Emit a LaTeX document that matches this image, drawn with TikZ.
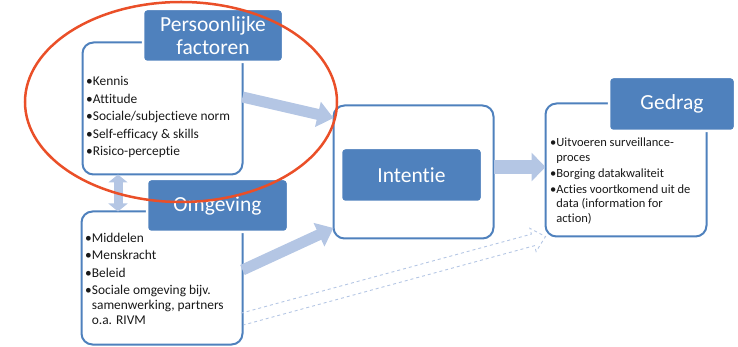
\documentclass[tikz,border=0pt]{standalone}
\usepackage{fontspec}
\setmainfont{Carlito}[Ligatures=NoCommon]
\usetikzlibrary{arrows.meta,calc}
\definecolor{tblue}{HTML}{4F81BD}
\definecolor{ablue}{HTML}{B4C6E4}
\definecolor{ered}{HTML}{EA4F28}
\begin{document}
\begin{tikzpicture}[x=1pt,y=-1pt,
  wbox/.style={draw=tblue, line width=2pt, fill=white, rounded corners=11pt, outer sep=0pt, inner sep=0pt},
  tbox/.style={draw=white, line width=2.5pt, fill=tblue, rounded corners=4pt, text=white,
    font=\fontsize{21.5}{23}\selectfont, align=center, inner sep=0pt, outer sep=0pt},
  blist/.style={anchor=west, align=left, inner sep=0pt, text=black!90},
  bigarrow/.style={draw=ablue, line width=#1},
  dasharrow/.style={draw=ablue, line width=0.9pt, dashed}
]
\useasboundingbox (0,0) rectangle (738,347);
% white boxes
\node[wbox, minimum width=160pt, minimum height=132pt] (pbox) at (162.5,108.5) {};
\node[wbox, minimum width=161pt, minimum height=133pt] (obox) at (162,278) {};
% dashed hollow arrow (drawn under boxes)
\coordinate (dA) at ([yshift=-41pt]obox.east);
\node[wbox, minimum width=160pt, minimum height=133pt] (ibox) at (413.5,172) {};
\node[wbox, minimum width=161pt, minimum height=133pt] (gbox) at (626,170) {};
\coordinate (dB) at (gbox.south west);
\coordinate (dC) at ($(dB)!13pt!(dA)$);
\draw[dasharrow]
  ($(dA)!6pt!90:(dB)$) -- ($(dC)!6pt!-90:(dA)$) -- ($(dC)!12pt!-90:(dA)$) -- (dB)
  -- ($(dC)!12pt!90:(dA)$) -- ($(dC)!6pt!90:(dA)$) -- ($(dA)!6pt!-90:(dB)$);
% thick arrows
\draw[bigarrow=11pt, -{Triangle[width=25pt,length=16pt]}]
  ([yshift=11.5pt]pbox.east) -- ([yshift=54pt]ibox.west);
\draw[bigarrow=11pt, -{Triangle[width=25pt,length=16pt]}]
  ([yshift=8pt]obox.east) -- ([yshift=-56pt]ibox.west);
\draw[bigarrow=14pt, -{Triangle[width=28pt,length=14pt]}]
  (ibox.east |- 0,167) -- (gbox.west |- 0,167);
\draw[bigarrow=9pt, {Triangle[width=19pt,length=8pt]}-{Triangle[width=19pt,length=8pt]}]
  (pbox.south -| 118,0) -- (obox.north -| 118,0);
% titles
\node[tbox, minimum width=140pt, minimum height=53pt] (ptitle) at (213,35.5) {Persoonlijke\\factoren};
\node[tbox, minimum width=141pt, minimum height=53pt] (otitle) at (217.5,205.5) {Omgeving};
\node[tbox, minimum width=141pt, minimum height=54pt] (ititle) at (411.5,175) {Intentie};
\node[tbox, minimum width=126pt, minimum height=54pt] (gtitle) at (672,104) {Gedrag};
% lists
\node[blist, font=\fontsize{13.4}{17.5}\selectfont] (plist) at (86,117)
  {•Kennis\\•Attitude\\•Sociale/subjectieve norm\\•Self-efficacy \& skills\\•Risico-perceptie};
\node[blist, font=\fontsize{13.4}{15}\selectfont] (olist) at (85,279)
  {•Middelen\\[2.5pt]•Menskracht\\[2.5pt]•Beleid\\[2.5pt]•Sociale omgeving bijv.\\\phantom{•}samenwerking, partners\\\phantom{•}o.a. RIVM};
\node[blist, font=\fontsize{12.5}{14.5}\selectfont] (glist) at (550,181)
  {•Uitvoeren surveillance-\\\phantom{•}proces\\[1.5pt]•Borging datakwaliteit\\[1.5pt]•Acties voortkomend uit de\\\phantom{•}data (information for\\\phantom{•}action)};
% red ellipse
\draw[ered, line width=2.5pt] (181,102) ellipse [x radius=156, y radius=100];
\end{tikzpicture}
\end{document}
